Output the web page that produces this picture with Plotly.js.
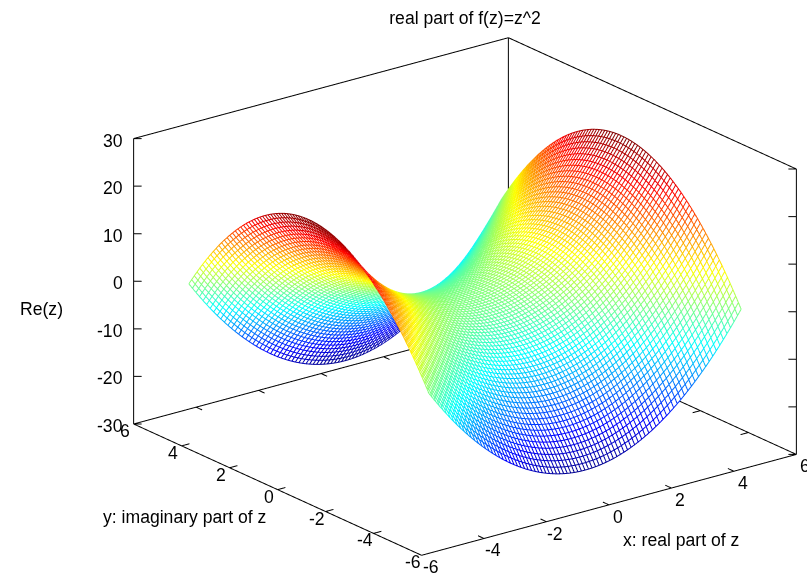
<!DOCTYPE html>
<html><head><meta charset="utf-8">
<script src="https://cdn.plot.ly/plotly-3.0.1.min.js"></script>
<style>html,body{margin:0;padding:0;background:#fff}#g{width:807px;height:575px}</style>
</head><body><div id="g"></div>
<script>
// Grid read from the wireframe; the heights are Re(z^2), the function named in the chart title.
const gridLo = -5, gridHi = 5, gridIntervals = 88;
const xTicks = [-6,-4,-2,0,2,4,6];
const yTicks = [-6,-4,-2,0,2,4,6];
const zTicks = [-30,-20,-10,0,10,20,30];
const titleText = 'real part of f(z)=z^2';
const xLabel = 'x: real part of z';
const yLabel = 'y: imaginary part of z';
const zLabel = 'Re(z)';
const colors = [[0,'#00008f'],[0.125,'#0000ff'],[0.375,'#00ffff'],[0.5,'#80ff80'],[0.625,'#ffff00'],[0.875,'#ff0000'],[1,'#800000']];

const grid = [];
for (let i = 0; i <= gridIntervals; i++) grid.push(gridLo + (gridHi-gridLo)*i/gridIntervals);
const re = (x,y) => x*x - y*y;

const lx=[],ly=[],lz=[],lc=[];
function push(x,y){const z=re(x,y);lx.push(x);ly.push(y);lz.push(z);lc.push(z);}
function gap(){lx.push(null);ly.push(null);lz.push(null);lc.push(0);}
grid.forEach(a=>{grid.forEach(b=>push(a,b));gap();grid.forEach(b=>push(b,a));gap();});

const e = 0.03;
const mask = {type:'surface',x:grid.map(v=>v+e),y:grid.map(v=>v+e),
  z:grid.map(y=>grid.map(x=>re(x,y)-5*e)),
  colorscale:[[0,'#fff'],[1,'#fff']],showscale:false,hoverinfo:'skip',
  lighting:{ambient:1,diffuse:0,specular:0,roughness:1,fresnel:0}};

const wire = {type:'scatter3d',mode:'lines',x:lx,y:ly,z:lz,hoverinfo:'skip',showlegend:false,
  line:{width:2,color:lc,colorscale:colors,cmin:-25,cmax:25,showscale:false}};

const bx=[],by=[],bz=[];
function seg(a,b){bx.push(a[0],b[0],null);by.push(a[1],b[1],null);bz.push(a[2],b[2],null);}
const R=6,Z=30;
seg([-R,-R,-Z],[R,-R,-Z]);seg([-R,-R,-Z],[-R,R,-Z]);seg([R,R,-Z],[R,-R,-Z]);seg([R,R,-Z],[-R,R,-Z]);
seg([-R,R,-Z],[-R,R,Z]);seg([R,-R,-Z],[R,-R,Z]);seg([R,R,-Z],[R,R,Z]);
seg([-R,R,Z],[R,R,Z]);seg([R,R,Z],[R,-R,Z]);
const t=0.25,hx=0.16,hy=0.124;
xTicks.slice(1,-1).forEach(v=>{seg([v,-R,-Z],[v,-R+t,-Z]);seg([v,R,-Z],[v,R-t,-Z]);});
yTicks.slice(1,-1).forEach(v=>{seg([-R,v,-Z],[-R+t,v,-Z]);seg([R,v,-Z],[R-t,v,-Z]);});
zTicks.forEach(v=>{seg([-R,R,v],[-R+hx,R-hy,v]);seg([R,-R,v],[R-hx,-R+hy,v]);});
const box={type:'scatter3d',mode:'lines',x:bx,y:by,z:bz,hoverinfo:'skip',showlegend:false,line:{width:2,color:'#000'}};

const font={family:'Liberation Sans, Arial, sans-serif',size:17.6,color:'#000'};
const sa=[];
xTicks.forEach(v=>sa.push({x:v,y:-R,z:-Z,text:String(v),showarrow:false,font,xanchor:'center',yanchor:'middle',xshift:9,yshift:-12}));
yTicks.forEach(v=>sa.push({x:-R,y:v,z:-Z,text:String(v),showarrow:false,font,xanchor:'center',yanchor:'middle',xshift:-9,yshift:-7}));
zTicks.forEach(v=>sa.push({x:-R,y:R,z:v,text:String(v),showarrow:false,font,xanchor:'right',yanchor:'middle',xshift:-9,yshift:-2}));

const ax={visible:false,showgrid:false,zeroline:false,showspikes:false,showbackground:false,range:[-R,R]};
const k=4, f=1.697;
const layout={width:807,height:575,margin:{l:0,r:0,t:0,b:0},paper_bgcolor:'#fff',showlegend:false,hovermode:false,
  title:{text:titleText,font,x:465/807,xanchor:'center',y:1-18/575,yanchor:'middle'},
  annotations:[
    {xref:'paper',yref:'paper',x:681/807,y:1-540/575,text:xLabel,showarrow:false,font,xanchor:'center',yanchor:'middle'},
    {xref:'paper',yref:'paper',x:184/807,y:1-517/575,text:yLabel,showarrow:false,font,xanchor:'center',yanchor:'middle'},
    {xref:'paper',yref:'paper',x:41/807,y:1-309/575,text:zLabel,showarrow:false,font,xanchor:'center',yanchor:'middle'}],
  scene:{domain:{x:[123/807,1],y:[0,557/575]},dragmode:false,hovermode:false,
    xaxis:ax,yaxis:ax,zaxis:Object.assign({},ax,{range:[-Z,Z]}),
    aspectmode:'manual',aspectratio:{x:f,y:f,z:0.6447*f},
    camera:{projection:{type:'orthographic'},up:{x:0,y:0,z:1},center:{x:0,y:0,z:0},
      eye:{x:-0.570*k,y:-0.742*k,z:0.350*k}},
    annotations:sa}};
Plotly.newPlot('g',[mask,wire,box],layout,{displayModeBar:false});
</script></body></html>
